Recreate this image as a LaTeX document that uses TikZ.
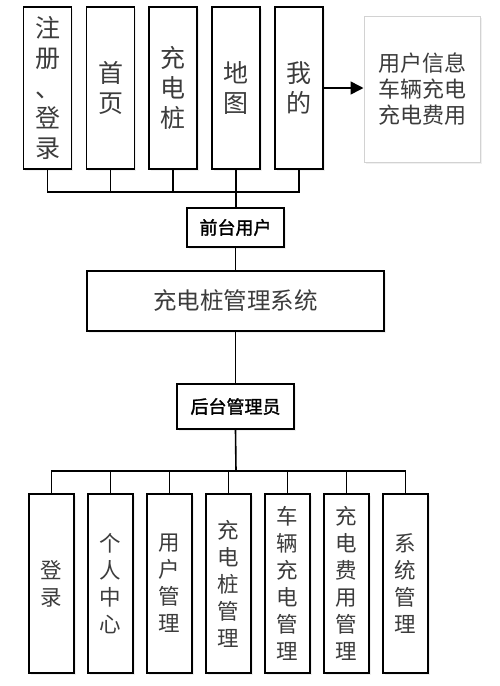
\documentclass[tikz,border=0pt]{standalone}
\usepackage{fontspec}
\setmainfont{Noto Sans CJK SC}
\newfontfamily\cjkmed[FakeBold=1.6]{Noto Sans CJK SC}
\usetikzlibrary{arrows.meta,shadows}
\definecolor{txtgray}{RGB}{60,60,60}
\tikzset{
  box/.style={draw=black,line width=1.6pt,fill=white,inner sep=0pt,align=center,text=txtgray,
    drop shadow={opacity=0.12,shadow xshift=1.5pt,shadow yshift=-1.5pt}},
  topbox/.style={box,minimum width=48pt,minimum height=162pt,font=\fontsize{25}{30}\selectfont},
  subbox/.style={box,minimum width=45pt,minimum height=179pt,font=\fontsize{21.5}{27}\selectfont},
  rolebox/.style={box,text=black,font=\fontsize{18}{20}\selectfont\cjkmed},
  link/.style={draw=black,line width=1.6pt}
}
\begin{document}
\begin{tikzpicture}[x=1pt,y=-1pt]
\useasboundingbox (0,0) rectangle (499,686);
% front end
\node[topbox] (reg) at (47.5,88) {注\\册\\、\\登\\录};
\node[topbox] (home) at (110.5,88) {首\\页};
\node[topbox] (pile) at (173,88) {充\\电\\桩};
\node[topbox] (map) at (236,88) {地\\图};
\node[topbox] (mine) at (299,88) {我\\的};
\node[box,draw=gray!35,line width=1pt,minimum width=116pt,minimum height=146pt,
  font=\fontsize{22}{26}\selectfont] (info) at (422,89) {用户信息\\车辆充电\\充电费用};
\node[rolebox,minimum width=97pt,minimum height=39pt] (front) at (235.5,227.5) {前台用户};
% system
\node[box,minimum width=297pt,minimum height=60pt,font=\fontsize{23.5}{28}\selectfont] (sys) at (235.5,301) {充电桩管理系统};
\node[rolebox,minimum width=117pt,minimum height=45pt] (back) at (235.5,406.5) {后台管理员};
% back end
\node[subbox] (login) at (51.5,583.5) {登\\录};
\node[subbox] (self) at (110.5,583.5) {个\\人\\中\\心};
\node[subbox] (user) at (169.5,583.5) {用\\户\\管\\理};
\node[subbox] (pilem) at (228.5,583.5) {充\\电\\桩\\管\\理};
\node[subbox] (car) at (287.5,583.5) {车\\辆\\充\\电\\管\\理};
\node[subbox] (fee) at (346.5,583.5) {充\\电\\费\\用\\管\\理};
\node[subbox] (sysm) at (405.5,583.5) {系\\统\\管\\理};
\coordinate (topbus) at (236,192);
\coordinate (botbus) at (236,471);
% connectors
\draw[link] (reg.south) |- (topbus) -| (mine.south);
\draw[link] (home.south) -- (home.south |- topbus);
\draw[link] (pile.south) -- (pile.south |- topbus);
\draw[link] (map.south) -- (front.north -| map.south);
\draw[link,-{Triangle[length=13pt,width=13pt]}] (mine.east) -- (info.west |- mine.east);
\draw[link] (front.south) -- (sys.north);
\draw[link] (sys.south) -- (back.north);
\draw[link] (back.south) -- (botbus);
\draw[link] (login.north) |- (botbus) -| (sysm.north);
\draw[link] (self.north) -- (self.north |- botbus);
\draw[link] (user.north) -- (user.north |- botbus);
\draw[link] (pilem.north) -- (pilem.north |- botbus);
\draw[link] (car.north) -- (car.north |- botbus);
\draw[link] (fee.north) -- (fee.north |- botbus);
\end{tikzpicture}
\end{document}
